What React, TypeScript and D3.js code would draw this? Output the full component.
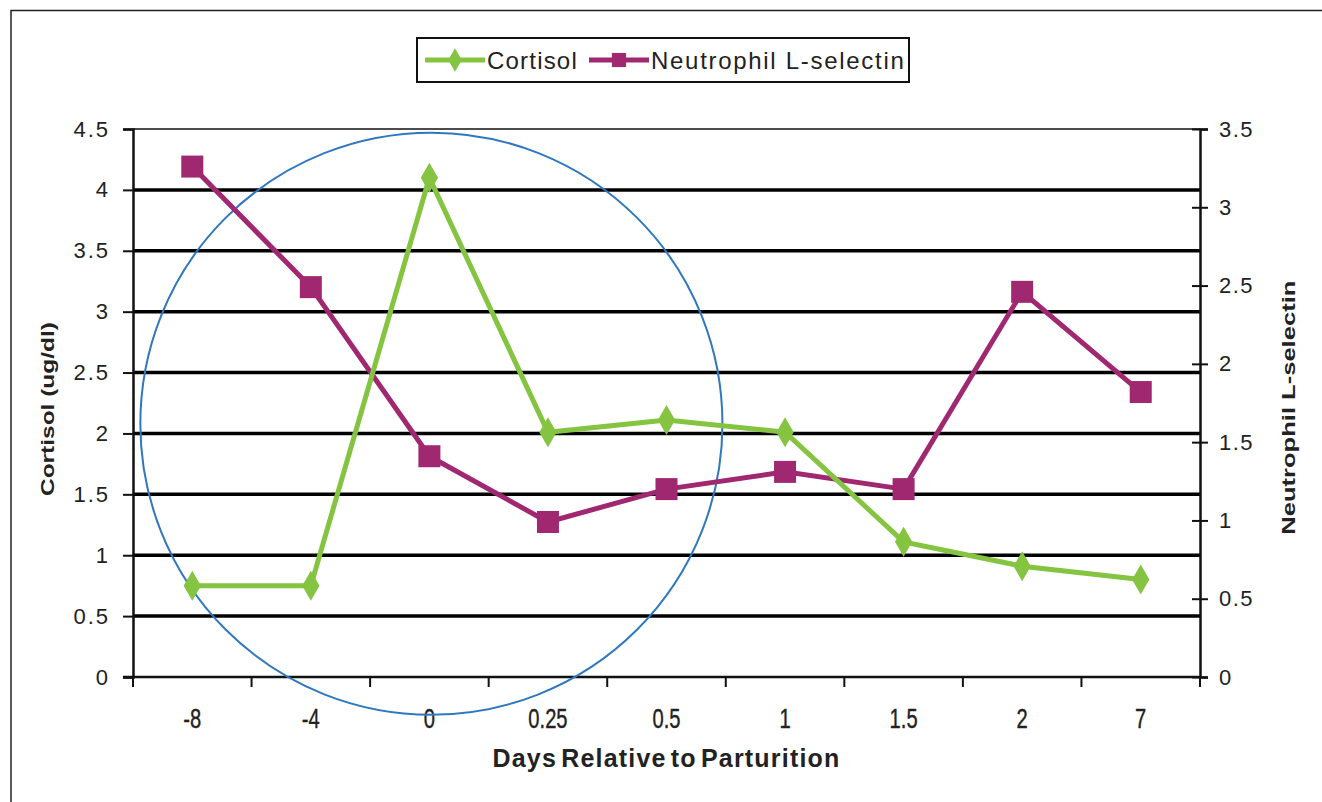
import { useEffect, useRef } from "react";
import * as d3 from "d3";

const days = ["-8", "-4", "0", "0.25", "0.5", "1", "1.5", "2", "7"];
const cortisol = [0.75, 0.75, 4.1, 2.01, 2.11, 2.01, 1.11, 0.91, 0.8];
const lselectin = [3.26, 2.49, 1.41, 0.99, 1.2, 1.31, 1.2, 2.46, 1.82];
const leftTicks = [0, 0.5, 1, 1.5, 2, 2.5, 3, 3.5, 4, 4.5];
const rightTicks = [0, 0.5, 1, 1.5, 2, 2.5, 3, 3.5];

// hand-drawn circle annotation (centre day, cortisol value, radius in cortisol units)
const circleNote = { day: "0", value: 2.08, radius: 2.39 };

const GREEN = "#84c441";
const PURPLE = "#a02870";

function App() {
  const ref = useRef<SVGSVGElement>(null);

  useEffect(() => {
    document.body.style.margin = "0";
    drawChart();
  }, []);

  function drawChart() {
    const svg = d3.select(ref.current);
    svg.selectAll("*").remove();

    const width = 1322;
    const height = 802;
    const margin = { top: 129, right: 122, bottom: 125, left: 133 };

    svg.append("rect").attr("width", width).attr("height", height).attr("fill", "white");

    // outer frame (runs off the right and bottom of the picture)
    svg
      .append("rect")
      .attr("x", 11)
      .attr("y", 10.5)
      .attr("width", width)
      .attr("height", height)
      .attr("fill", "none")
      .attr("stroke", "#222")
      .attr("stroke-width", 1.5);

    const x = d3
      .scaleBand()
      .domain(days)
      .range([margin.left, width - margin.right]);
    const yLeft = d3
      .scaleLinear()
      .domain([0, 4.5])
      .range([height - margin.bottom, margin.top]);
    const yRight = d3
      .scaleLinear()
      .domain([0, 3.5])
      .range([height - margin.bottom, margin.top]);

    const x0 = margin.left;
    const x1 = width - margin.right;
    const font = "'Liberation Sans', Arial, sans-serif";

    // plot border on top
    svg
      .append("line")
      .attr("x1", x0)
      .attr("x2", x1)
      .attr("y1", margin.top)
      .attr("y2", margin.top)
      .attr("stroke", "#111")
      .attr("stroke-width", 1.5);

    // gridlines
    svg
      .append("g")
      .selectAll("line")
      .data(leftTicks.filter((d) => d > 0 && d < 4.5))
      .join("line")
      .attr("x1", x0)
      .attr("x2", x1)
      .attr("y1", (d) => yLeft(d))
      .attr("y2", (d) => yLeft(d))
      .attr("stroke", "#000")
      .attr("stroke-width", 3.5);

    // left axis
    const left = svg
      .append("g")
      .attr("transform", `translate(${x0},0)`)
      .call(d3.axisLeft(yLeft).tickValues(leftTicks).tickSize(10).tickPadding(13).tickFormat(d3.format("")));
    left.select(".domain").attr("stroke", "#111").attr("stroke-width", 2.5);
    left.selectAll(".tick line").attr("stroke", "#111").attr("stroke-width", 2);
    left
      .selectAll("text")
      .attr("font-family", font)
      .attr("font-size", 22)
      .attr("letter-spacing", 2)
      .attr("fill", "#222");

    // right axis
    const right = svg
      .append("g")
      .attr("transform", `translate(${x1},0)`)
      .call(d3.axisRight(yRight).tickValues(rightTicks).tickSize(8).tickPadding(11).tickFormat(d3.format("")));
    right.select(".domain").attr("stroke", "#111").attr("stroke-width", 2.5);
    right
      .selectAll(".tick line")
      .attr("x1", -8)
      .attr("stroke", "#111")
      .attr("stroke-width", 2);
    right
      .selectAll("text")
      .attr("font-family", font)
      .attr("font-size", 22)
      .attr("letter-spacing", 1.5)
      .attr("fill", "#222");

    // bottom axis
    const bottom = svg.append("g").attr("transform", `translate(0,${height - margin.bottom})`);
    bottom
      .append("line")
      .attr("x1", x0 - 10)
      .attr("x2", x1)
      .attr("stroke", "#111")
      .attr("stroke-width", 2.5);
    bottom
      .selectAll("line.tick")
      .data([...days, "end"])
      .join("line")
      .attr("class", "tick")
      .attr("x1", (d) => (d === "end" ? x1 : (x(d) as number)))
      .attr("x2", (d) => (d === "end" ? x1 : (x(d) as number)))
      .attr("y1", 0)
      .attr("y2", 10)
      .attr("stroke", "#111")
      .attr("stroke-width", 2);
    bottom
      .selectAll("text")
      .data(days)
      .join("text")
      .attr("transform", (d) => `translate(${(x(d) as number) + x.bandwidth() / 2},51) scale(0.72,1)`)
      .attr("text-anchor", "middle")
      .attr("font-family", font)
      .attr("font-size", 28)
      .attr("fill", "#222")
      .attr("stroke", "#222")
      .attr("stroke-width", 0.4)
      .text((d) => d);

    // axis titles
    svg
      .append("text")
      .attr("transform", `translate(54,${yLeft(2.2)}) rotate(-90) scale(1.36,1)`)
      .attr("text-anchor", "middle")
      .attr("font-family", font)
      .attr("font-weight", "bold")
      .attr("font-size", 18)
      .attr("fill", "#222")
      .text("Cortisol (ug/dl)");
    svg
      .append("text")
      .attr("transform", `translate(1295,${yRight(1.72)}) rotate(-90) scale(1.42,1)`)
      .attr("text-anchor", "middle")
      .attr("font-family", font)
      .attr("font-weight", "bold")
      .attr("font-size", 18)
      .attr("fill", "#222")
      .text("Neutrophil L-selectin");
    svg
      .append("text")
      .attr("x", (x0 + x1) / 2)
      .attr("y", 767)
      .attr("text-anchor", "middle")
      .attr("font-family", font)
      .attr("font-weight", "bold")
      .attr("font-size", 25)
      .attr("letter-spacing", 1.2)
      .attr("word-spacing", -4)
      .attr("fill", "#222")
      .text("Days Relative to Parturition");

    const cx = (d: string) => (x(d) as number) + x.bandwidth() / 2;

    // circle annotation
    const ppu = yLeft(0) - yLeft(1);
    svg
      .append("circle")
      .attr("cx", cx(circleNote.day) + 2)
      .attr("cy", yLeft(circleNote.value))
      .attr("r", circleNote.radius * ppu)
      .attr("fill", "none")
      .attr("stroke", "#2f78c0")
      .attr("stroke-width", 2);

    const diamond = d3.symbol(d3.symbolDiamond, 260);

    // L-selectin series
    const lineR = d3
      .line<number>()
      .x((_, i) => cx(days[i]))
      .y((d) => yRight(d));
    svg
      .append("path")
      .datum(lselectin)
      .attr("d", lineR)
      .attr("fill", "none")
      .attr("stroke", PURPLE)
      .attr("stroke-width", 5);
    svg
      .append("g")
      .selectAll("rect")
      .data(lselectin)
      .join("rect")
      .attr("x", (_, i) => cx(days[i]) - 11)
      .attr("y", (d) => yRight(d) - 11)
      .attr("width", 22)
      .attr("height", 22)
      .attr("fill", PURPLE);

    // cortisol series
    const lineL = d3
      .line<number>()
      .x((_, i) => cx(days[i]))
      .y((d) => yLeft(d));
    svg
      .append("path")
      .datum(cortisol)
      .attr("d", lineL)
      .attr("fill", "none")
      .attr("stroke", GREEN)
      .attr("stroke-width", 5);
    svg
      .append("g")
      .selectAll("path")
      .data(cortisol)
      .join("path")
      .attr("d", diamond)
      .attr("transform", (d, i) => `translate(${cx(days[i])},${yLeft(d)})`)
      .attr("fill", GREEN);

    // legend
    const legend = svg.append("g").attr("transform", "translate(417,38)");
    legend
      .append("rect")
      .attr("width", 492)
      .attr("height", 44)
      .attr("fill", "white")
      .attr("stroke", "#111")
      .attr("stroke-width", 2);
    const items = [
      { name: "Cortisol", color: GREEN, x: 8, marker: "diamond" },
      { name: "Neutrophil L-selectin", color: PURPLE, x: 172, marker: "square" },
    ];
    const li = legend
      .selectAll("g.item")
      .data(items)
      .join("g")
      .attr("class", "item")
      .attr("transform", (d) => `translate(${d.x},22)`);
    li.append("line")
      .attr("x1", 0)
      .attr("x2", 60)
      .attr("stroke", (d) => d.color)
      .attr("stroke-width", 5);
    li.append("path")
      .attr("d", (d) =>
        d.marker === "diamond" ? d3.symbol(d3.symbolDiamond, 160)() : d3.symbol(d3.symbolSquare, 200)()
      )
      .attr("transform", "translate(30,0)")
      .attr("fill", (d) => d.color);
    li.append("text")
      .attr("x", 62)
      .attr("dy", "0.36em")
      .attr("font-family", font)
      .attr("font-size", 24)
      .attr("letter-spacing", (d) => (d.marker === "square" ? 1.7 : 1.2))
      .attr("fill", "#222")
      .text((d) => d.name);
  }

  return <svg ref={ref} width={1322} height={802} style={{ display: "block" }} />;
}

export default App;
